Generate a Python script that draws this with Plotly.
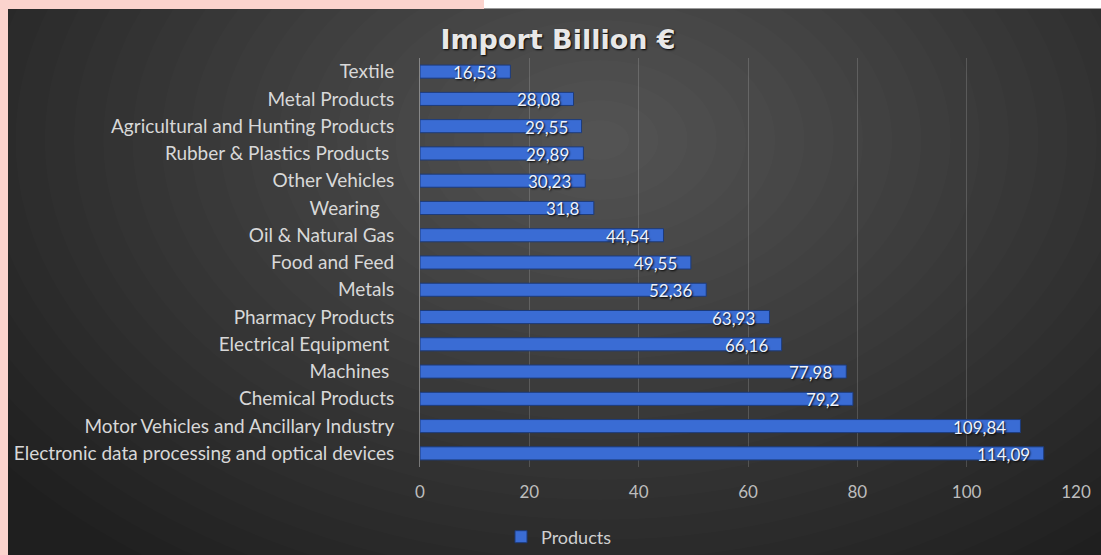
import plotly.graph_objects as go

# Import volumes by product group, billion euro (top to bottom as listed)
categories = [
    "Textile",
    "Metal Products",
    "Agricultural and Hunting Products",
    "Rubber & Plastics Products\u00a0",
    "Other Vehicles",
    "Wearing\u00a0\u00a0\u00a0",
    "Oil & Natural Gas",
    "Food and Feed",
    "Metals",
    "Pharmacy Products",
    "Electrical Equipment\u00a0",
    "Machines\u00a0",
    "Chemical Products",
    "Motor Vehicles and Ancillary Industry",
    "Electronic data processing and optical devices",
]
values = [16.53, 28.08, 29.55, 29.89, 30.23, 31.8, 44.54, 49.55, 52.36,
          63.93, 66.16, 77.98, 79.2, 109.84, 114.09]
x_ticks = [0, 20, 40, 60, 80, 100, 120]
series_name = "Products"

W, H = 1101, 555
ML, MR, MT, MB = 420, 25, 58, 88
PW, PH = W - ML - MR, H - MT - MB


def px_x(px):
    return (px - ML) / PW


def px_y(py):
    return 1 - (py - MT) / PH


labels = [f"{v:g}".replace(".", ",") for v in values]

fig = go.Figure(go.Bar(
    x=values,
    y=categories,
    orientation="h",
    name=series_name,
    marker=dict(color="#3a6cd4", line=dict(color="#1d3b7a", width=1)),
))

# Value labels sitting just inside the end of each bar
for v, c, t in zip(values, categories, labels):
    fig.add_annotation(
        x=v, y=c, xref="x", yref="y", text=t, showarrow=False,
        xanchor="right", yanchor="middle", xshift=-12, yshift=-1,
        font=dict(family="Lato", size=17, color="#eef2fb",
                  shadow="1px 1px 2px #000000"),
    )

# Dark chart area with a soft radial highlight near the top centre
shapes = []
n_rings = 26
for i in range(n_rings):
    f = 1 - i / n_rings
    rx, ry = 760 * f, 520 * f
    cx, cy = 600, 140
    shapes.append(dict(
        type="circle", xref="paper", yref="paper", layer="below",
        x0=px_x(cx - rx), x1=px_x(cx + rx),
        y0=px_y(cy + ry), y1=px_y(cy - ry),
        fillcolor="rgba(255,255,255,0.0105)", line=dict(width=0),
    ))

# Pink frame strips along the top and left edge, white strip top right
shapes += [
    dict(type="rect", xref="paper", yref="paper", layer="below",
         x0=px_x(0), x1=px_x(8), y0=px_y(H), y1=px_y(0),
         fillcolor="#fbd3cd", line=dict(width=0)),
    dict(type="rect", xref="paper", yref="paper", layer="below",
         x0=px_x(0), x1=px_x(484), y0=px_y(9), y1=px_y(0),
         fillcolor="#fbd3cd", line=dict(width=0)),
    dict(type="rect", xref="paper", yref="paper", layer="below",
         x0=px_x(484), x1=px_x(W), y0=px_y(8), y1=px_y(0),
         fillcolor="#ffffff", line=dict(width=0)),
    dict(type="line", xref="paper", yref="paper", layer="below",
         x0=px_x(484), x1=px_x(W), y0=px_y(8.5), y1=px_y(8.5),
         line=dict(color="#9a9a9a", width=1)),
]

fig.update_layout(
    width=W, height=H,
    margin=dict(l=ML, r=MR, t=MT, b=MB, pad=0, autoexpand=False),
    paper_bgcolor="#1f1f1f",
    plot_bgcolor="rgba(0,0,0,0)",
    shapes=shapes,
    bargap=0.52,
    title=dict(
        text="<b>Import Billion €</b>",
        x=px_x(558), xref="paper", xanchor="center",
        y=1 - 40 / H, yanchor="middle",
        font=dict(family="DejaVu Sans", size=27, color="#e8e8e8",
                  shadow="1px 1px 2px #000000"),
    ),
    xaxis=dict(
        range=[0, 120],
        tickvals=x_ticks,
        ticktext=[str(t) for t in x_ticks],
        showgrid=True,
        gridcolor="rgba(255,255,255,0.16)",
        gridwidth=1,
        zeroline=False,
        showline=False,
        ticks="",
        ticklabelstandoff=13,
        tickfont=dict(family="Lato", size=17, color="#bdbdbd"),
        fixedrange=True,
    ),
    yaxis=dict(
        autorange="reversed",
        showgrid=False,
        zeroline=False,
        showline=True,
        linecolor="rgba(255,255,255,0.35)",
        linewidth=1,
        ticks="",
        ticklabelstandoff=21,
        tickfont=dict(family="Lato", size=19, color="#d8d8d8"),
        fixedrange=True,
    ),
    showlegend=True,
    legend=dict(
        orientation="h",
        x=px_x(501), xanchor="left",
        y=px_y(537), yanchor="middle",
        font=dict(family="Lato", size=18, color="#d0d0d0"),
        bgcolor="rgba(0,0,0,0)",
        itemwidth=30,
    ),
)

fig.write_html("out.html")
